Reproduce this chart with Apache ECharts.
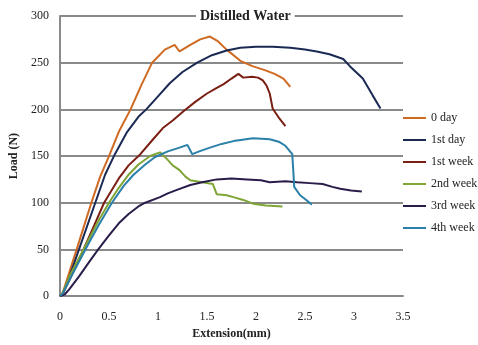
<!DOCTYPE html>
<html>
<head>
<meta charset="utf-8">
<script src="https://cdn.jsdelivr.net/npm/echarts@6/dist/echarts.min.js"></script>
<style>html,body{margin:0;padding:0;background:#fff}#c{width:478px;height:345px}</style>
</head>
<body>
<div id="c"></div>
<script>
const titleText = 'Distilled Water';
const xAxisName = 'Extension(mm)';
const yAxisName = 'Load (N)';
const seriesNames = ['0 day', '1st day', '1st week', '2nd week', '3rd week', '4th week'];
const xTicks = ['0', '0.5', '1', '1.5', '2', '2.5', '3', '3.5'];
const yTicks = ['0', '50', '100', '150', '200', '250', '300'];

const day0 = [[0,0],[0.03,4],[0.1,27],[0.2,60],[0.32,100],[0.41,128],[0.5,150],[0.6,176],[0.72,200],[0.83,226],[0.94,250],[1.07,264],[1.17,269],[1.22,262],[1.33,269],[1.43,275],[1.53,278],[1.61,273],[1.70,264],[1.84,252],[1.97,246],[2.09,242],[2.19,238],[2.28,233],[2.35,224]];
const day1 = [[0,0],[0.03,3],[0.1,22],[0.2,52],[0.36,100],[0.46,130],[0.56,152],[0.68,175],[0.8,192],[0.88,200],[1.0,214],[1.12,228],[1.25,240],[1.4,250],[1.55,258],[1.7,263],[1.84,266],[2.0,267],[2.17,267],[2.35,266],[2.5,264],[2.62,262],[2.75,259],[2.89,254],[2.96,246],[3.09,233],[3.19,215],[3.27,201]];
const week1 = [[0,0],[0.03,3],[0.1,18],[0.24,50],[0.35,76],[0.45,100],[0.6,126],[0.7,140],[0.82,152],[0.95,168],[1.05,180],[1.15,188],[1.26,198],[1.38,208],[1.5,217],[1.6,223],[1.67,227],[1.75,233],[1.82,238],[1.87,234],[1.96,235],[2.02,234],[2.07,231],[2.11,225],[2.14,217],[2.17,201],[2.24,190],[2.30,182]];
const week2 = [[0,0],[0.03,4],[0.1,22],[0.2,42],[0.3,62],[0.4,82],[0.5,100],[0.6,116],[0.7,130],[0.8,141],[0.92,150],[1.02,154],[1.09,147],[1.15,140],[1.22,135],[1.28,128],[1.33,124],[1.45,122],[1.56,120],[1.6,109],[1.7,108],[1.77,106],[1.87,103],[1.97,99],[2.1,97],[2.27,96]];
const week3 = [[0,0],[0.05,2],[0.1,8],[0.2,22],[0.3,37],[0.39,50],[0.5,65],[0.6,78],[0.7,88],[0.8,96],[0.87,100],[1.02,106],[1.1,110],[1.2,114],[1.33,119],[1.45,122],[1.6,125],[1.75,126],[1.91,125],[2.05,124],[2.14,122],[2.3,123],[2.42,122],[2.55,121],[2.68,120],[2.78,117],[2.86,115],[2.97,113],[3.08,112]];
const week4 = [[0,0],[0.03,3],[0.1,18],[0.2,38],[0.3,58],[0.4,77],[0.53,100],[0.65,118],[0.75,130],[0.87,141],[0.97,149],[1.1,155],[1.22,159],[1.30,162],[1.35,152],[1.42,155],[1.53,159],[1.65,163],[1.77,166],[1.97,169],[2.14,168],[2.24,165],[2.3,161],[2.37,152],[2.38,135],[2.39,117],[2.45,108],[2.5,104],[2.57,98]];

const seriesData = [day0, day1, week1, week2, week3, week4];
const colors = ['#cf6a22', '#1b2a55', '#7a1f14', '#7fa535', '#2a1d4a', '#2a80a8'];

const chart = echarts.init(document.getElementById('c'), null, {renderer: 'canvas'});
const font = '"Liberation Serif", "DejaVu Serif", serif';
chart.setOption({
  animation: false,
  backgroundColor: '#fff',
  title: {
    text: titleText,
    left: 196, top: 7,
    backgroundColor: '#fff',
    padding: [2, 4],
    textStyle: {fontFamily: font, fontSize: 14, fontWeight: 'bold', color: '#222'}
  },
  legend: {
    orient: 'vertical',
    left: 403, top: 111,
    icon: 'rect',
    itemWidth: 23, itemHeight: 2,
    itemGap: 8,
    padding: 0,
    textStyle: {fontFamily: font, fontSize: 12, color: '#222', lineHeight: 14},
    data: seriesNames
  },
  grid: {left: 60, right: 75, top: 16, bottom: 44, containLabel: false},
  xAxis: {
    type: 'value', min: 0, max: 3.5, interval: 0.5,
    name: xAxisName, nameLocation: 'middle', nameGap: 30,
    nameTextStyle: {fontFamily: font, fontSize: 12, fontWeight: 'bold', color: '#222'},
    axisLine: {show: true, lineStyle: {color: '#8a8a8a', width: 2}},
    axisTick: {show: false},
    splitLine: {show: false},
    axisLabel: {fontFamily: font, fontSize: 12, color: '#222', margin: 15,
      formatter: (v) => xTicks[Math.round(v / 0.5)]}
  },
  yAxis: {
    type: 'value', min: 0, max: 300, interval: 50,
    name: yAxisName, nameLocation: 'middle', nameGap: 40, nameRotate: 90,
    nameTextStyle: {fontFamily: font, fontSize: 12, fontWeight: 'bold', color: '#222'},
    axisLine: {show: true, lineStyle: {color: '#8a8a8a', width: 2}},
    axisTick: {show: false},
    splitLine: {show: true, lineStyle: {color: '#8a8a8a', width: 2}},
    axisLabel: {fontFamily: font, fontSize: 12, color: '#222', margin: 11,
      formatter: (v) => yTicks[Math.round(v / 50)]}
  },
  series: seriesNames.map((n, i) => ({
    name: n, type: 'line', data: seriesData[i], showSymbol: false, symbol: 'none',
    lineStyle: {width: 2, color: colors[i]}, itemStyle: {color: colors[i]}, z: 3
  }))
});
</script>
</body>
</html>
